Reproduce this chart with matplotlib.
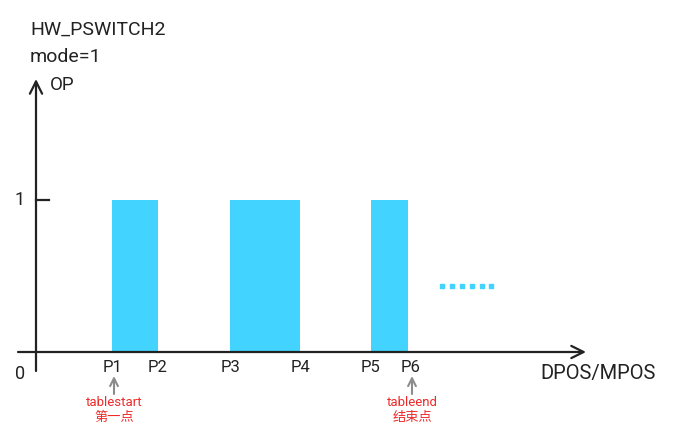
import matplotlib
matplotlib.use("Agg")
import matplotlib.pyplot as plt

plt.rcParams['font.family'] = ['Roboto', 'Noto Sans CJK SC', 'DejaVu Sans']

# pulse edges (x in pixels from origin), output level
pulse_start = [76, 194, 335]
pulse_end = [122, 264, 372]
level = 1

point_labels = ['P1', 'P2', 'P3', 'P4', 'P5', 'P6']
point_x = [77, 122, 195, 265, 335, 375]

dots_x = [406, 416, 426, 436, 446, 455]
dots_y = [0.435] * 6

bar_color = '#42d4ff'
red = '#ee2a2a'
grey = '#8c8c8c'

fig = plt.figure(figsize=(6.76, 4.32), dpi=100)
ax = fig.add_axes([0, 0, 1, 1])
ax.set_xlim(-36, 640)
ax.set_ylim(-80 / 152, 352 / 152)
ax.axis('off')

# pulses
for s, e in zip(pulse_start, pulse_end):
    ax.bar(s, level, width=e - s, align='edge', color=bar_color, zorder=1)

# dotted continuation
ax.scatter(dots_x, dots_y, marker='s', s=9, color=bar_color, zorder=1)

# axes with open arrow heads
arrow = dict(arrowstyle='->', color='#222222', lw=1.6, mutation_scale=22,
             shrinkA=0, shrinkB=0)
ax.annotate('', xy=(550, 0), xytext=(-18, 0), arrowprops=arrow)
ax.annotate('', xy=(0, 273 / 152), xytext=(0, -19 / 152), arrowprops=arrow)
ax.plot([0, 13], [1, 1], color='#222222', lw=1.6)

# axis texts
ax.text(-16, 1, '1', fontsize=13, ha='center', va='center', color='#222222')
ax.text(-16, -22 / 152, '0', fontsize=13, ha='center', va='center', color='#222222')
ax.text(14, 267 / 152, 'OP', fontsize=13.5, ha='left', va='center', color='#222222')
ax.text(540 - 36, -22 / 152, 'DPOS/MPOS', fontsize=14.5, ha='left', va='center', color='#222222')
ax.text(-6, 322 / 152, 'HW_PSWITCH2', fontsize=14, ha='left', va='center', color='#222222')
ax.text(-6, 295 / 152, 'mode=1', fontsize=14, ha='left', va='center', color='#222222')

for lab, x in zip(point_labels, point_x):
    ax.text(x, -15 / 152, lab, fontsize=12, ha='center', va='center', color='#222222')

# start / end markers
garrow = dict(arrowstyle='->', color=grey, lw=1.5, mutation_scale=14,
              shrinkA=0, shrinkB=0)
for x, t1, t2 in [(78, 'tablestart', '第一点'), (376, 'tableend', '结束点')]:
    ax.annotate('', xy=(x, -24 / 152), xytext=(x, -42 / 152), arrowprops=garrow)
    ax.text(x, -51 / 152, t1, fontsize=9.5, ha='center', va='center', color=red)
    ax.text(x, -66 / 152, t2, fontsize=9.5, ha='center', va='center', color=red)

fig.savefig('out.png', dpi=100)
